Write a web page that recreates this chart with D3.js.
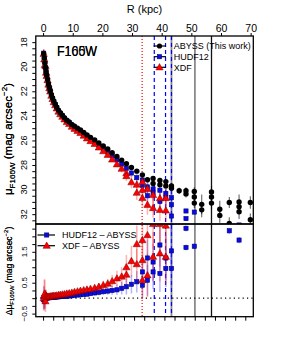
<!DOCTYPE html>
<html>
<head>
<meta charset="utf-8">
<script src="https://cdn.jsdelivr.net/npm/d3@7"></script>
<style>
  body { margin: 0; background: #fff; }
  svg { display: block; font-family: "Liberation Sans", Arial, sans-serif; }
</style>
</head>
<body>
<svg id="chart" width="282" height="353"></svg>
<script>
// filter names as printed (the original overprints two of them)
const filterNames = ["F105W", "F160W"];

// bin centres of the profiles, kpc
const radius = [0.2, 0.4, 0.6, 0.8, 1.0, 1.2, 1.5, 1.8, 2.1, 2.4,
  2.8, 3.2, 3.6, 4.1, 4.6, 5.2, 5.8, 6.5, 7.2, 8.0,
  8.8, 9.7, 10.6, 11.6, 12.6, 13.7, 14.8, 16.0, 17.4, 18.8,
  20.3, 21.8, 23.3, 24.9, 26.5, 28.1, 29.8, 31.6, 33.5, 35.2,
  37.1, 39.4, 41.4, 43.3, 45.9, 48.2, 51.0, 53.5, 56.8, 59.6,
  62.8, 66.1, 69.9];

// ABYSS surface brightness (mag arcsec^-2)
const abyssMu = [18.95, 19.3, 19.7, 20.05, 20.4, 20.7, 21.05, 21.4, 21.7, 21.95,
  22.3, 22.55, 22.8, 23.05, 23.3, 23.55, 23.75, 23.95, 24.15, 24.35,
  24.5, 24.7, 24.85, 25.0, 25.15, 25.35, 25.55, 25.75, 25.95, 26.2,
  26.45, 26.7, 27.0, 27.3, 27.6, 27.9, 28.2, 28.5, 28.8, 29.2,
  29.1, 29.25, 29.35, 29.7, 30.1, 30.1, 30.15, 31.2, 30.2, 31.6,
  31.05, 31.0, 31.05];
const abyssErr = [0.02, 0.02, 0.02, 0.02, 0.02, 0.02, 0.02, 0.02, 0.02, 0.02,
  0.02, 0.02, 0.02, 0.02, 0.02, 0.02, 0.02, 0.02, 0.02, 0.02,
  0.03, 0.03, 0.03, 0.03, 0.03, 0.03, 0.03, 0.03, 0.03, 0.03,
  0.04, 0.04, 0.05, 0.05, 0.06, 0.07, 0.08, 0.1, 0.12, 0.15,
  0.15, 0.15, 0.2, 0.2, 0.25, 0.3, 0.35, 0.8, 0.5, 0.7,
  0.45, 0.6, 0.5];
// further ABYSS measurements in the outer bins: [R, mu, err]
const abyssExtra = [[37.1, 29.5, 0.15], [39.4, 29.6, 0.15], [41.4, 29.7, 0.2],
  [43.3, 29.9, 0.2], [48.2, 30.35, 0.3], [51.0, 30.6, 0.35], [51.0, 31.1, 0.4],
  [53.5, 31.65, 0.6], [56.8, 30.6, 0.4], [56.8, 31.1, 0.5], [59.6, 32.1, 0.6],
  [62.8, 32.75, 0.5], [66.1, 31.4, 0.5], [66.1, 31.8, 0.6], [69.9, 32.45, 0.5]];

// HUDF12 - ABYSS (mag arcsec^-2)
const hudfDelta = [-0.05, 0.02, -0.1, 0.05, 0.0, 0.03, 0.0, 0.02, 0.01, 0.02,
  0.02, 0.03, 0.03, 0.03, 0.04, 0.04, 0.05, 0.05, 0.06, 0.06,
  0.07, 0.08, 0.09, 0.1, 0.11, 0.12, 0.13, 0.15, 0.17, 0.19,
  0.21, 0.23, 0.25, 0.27, 0.32, 0.37, 0.45, 0.53, 0.42, 0.58,
  0.85, 0.8, 0.96, 0.96, null, 1.64, 1.68, null, null, null,
  2.18, 1.88, null];
const hudfErr = [0.3, 0.35, 0.25, 0.2, 0.12, 0.1, 0.08, 0.06, 0.05, 0.05,
  0.04, 0.04, 0.04, 0.04, 0.04, 0.04, 0.04, 0.04, 0.04, 0.04,
  0.05, 0.05, 0.05, 0.05, 0.05, 0.06, 0.07, 0.08, 0.09, 0.1,
  0.11, 0.12, 0.14, 0.16, 0.2, 0.25, 0.3, 0.35, 0.4, 0.5,
  0.55, 0.6, 0.6, 0.65, null, 0.1, 0.1, null, null, null,
  0.1, 0.1, null];
const hudfExtra = [[33.5, 0.85, 0.5], [35.2, 1.3, 0.6], [37.1, 1.17, 0.6],
  [39.4, 1.72, 0.7], [41.4, 1.3, 0.7], [43.3, 1.53, 0.7], [43.3, 2.45, 0.3],
  [48.2, 2.26, 0.1]];

// XDF - ABYSS (mag arcsec^-2)
const xdfDelta = [0.0, 0.1, 0.15, -0.1, 0.08, 0.05, 0.04, 0.05, 0.05, 0.06,
  0.06, 0.07, 0.08, 0.08, 0.09, 0.1, 0.11, 0.12, 0.13, 0.15,
  0.16, 0.18, 0.2, 0.22, 0.24, 0.26, 0.28, 0.3, 0.33, 0.37,
  0.42, 0.47, 0.55, 0.64, 0.7, 0.76, 1.2, 1.75, 0.58, 0.74,
  1.34, 1.45, 1.34, null, null, null, null, null, null, null,
  null, null, null];
const xdfErr = [0.4, 0.5, 0.45, 0.35, 0.2, 0.15, 0.1, 0.08, 0.06, 0.06,
  0.05, 0.05, 0.05, 0.05, 0.05, 0.05, 0.05, 0.05, 0.05, 0.05,
  0.06, 0.06, 0.07, 0.07, 0.08, 0.08, 0.09, 0.1, 0.11, 0.12,
  0.14, 0.16, 0.2, 0.25, 0.3, 0.35, 0.5, 0.6, 0.6, 0.7,
  0.8, 0.9, 0.9, null, null, null, null, null, null, null,
  null, null, null];
const xdfExtra = [[28.1, 1.0, 0.4], [31.6, 1.1, 0.5], [33.5, 1.23, 0.6],
  [33.5, 1.88, 0.7], [35.2, 2.04, 0.8], [37.1, 2.4, 0.8], [39.4, 2.4, 0.9],
  [41.4, 2.35, 0.9]];

// limiting radii, kpc
const xdfLimit = [33.4];
const hudfLimits = [37.5, 41.3, 43.3];
const abyssLimits = [43.3, 51.2];
const finalLimit = [56.8];

// axes
const kpcTicks = [0, 10, 20, 30, 40, 50, 60, 70];
const muLabels = [18, 20, 22, 24, 26, 28, 30, 32];
const deltaLabels = [-0.5, 0.5, 1.5];
const legendTop = ["ABYSS (This work)", "HUDF12", "XDF"];
const legendBottom = ["HUDF12 \u2013 ABYSS", "XDF \u2013 ABYSS"];

const svg = d3.select("#chart");
const pLeft = 35.8, pRight = 253.3, pTop = 36, pMid = 224, pBottom = 316.7;

const x = d3.scaleLinear().domain([-2.46, 70.9]).range([pLeft, pRight]);
const kpcPerArcsec = 6.82;
const xArc = d3.scaleLinear().domain(x.domain().map(d => d / kpcPerArcsec)).range([pLeft, pRight]);
const yTop = d3.scaleLinear().domain([17.5, 32.8]).range([pTop, pMid]);
const yBot = d3.scaleLinear().domain([2.4, -0.6]).range([pMid, pBottom]);

const defs = svg.append("defs");
defs.append("clipPath").attr("id", "clipTop").append("rect")
  .attr("x", pLeft).attr("y", pTop).attr("width", pRight - pLeft).attr("height", pMid - pTop);
defs.append("clipPath").attr("id", "clipBot").append("rect")
  .attr("x", pLeft).attr("y", pMid).attr("width", pRight - pLeft).attr("height", pBottom - pMid);

// point records
const abyssPts = radius.map((r, i) => ({ r, v: abyssMu[i], e: abyssErr[i] }))
  .concat(abyssExtra.map(([r, v, e]) => ({ r, v, e })));
function deltaPts(delta, err, extra) {
  return radius.map((r, i) => delta[i] == null ? null : { r, v: delta[i], e: err[i] })
    .filter(Boolean)
    .concat(extra.map(([r, v, e]) => ({ r, v, e })));
}
const hudfDiff = deltaPts(hudfDelta, hudfErr, hudfExtra);
const xdfDiff = deltaPts(xdfDelta, xdfErr, xdfExtra);
const toMu = d => ({ r: d.r, v: abyssMu[radius.indexOf(d.r)] + d.v, e: d.e });
const hudfMuPts = hudfDiff.map(toMu);
const xdfMuPts = xdfDiff.map(toMu);

// ---- limit lines (both panels)
const lines = svg.append("g");
function vlines(vals, color, width, dash) {
  lines.selectAll(null).data(vals).enter().append("line")
    .attr("x1", d => x(d)).attr("x2", d => x(d))
    .attr("y1", pTop).attr("y2", pBottom)
    .attr("stroke", color).attr("stroke-width", width)
    .attr("stroke-dasharray", dash);
}
vlines(abyssLimits, "#8a8a8a", 1.8, null);
vlines(finalLimit, "#111", 1.3, null);
vlines(xdfLimit, "#ff0000", 1.2, "1,2");
vlines(hudfLimits, "#0000ff", 1.2, "4,3");

// zero line of the residual panel
svg.append("line")
  .attr("x1", pLeft).attr("x2", pRight)
  .attr("y1", yBot(0)).attr("y2", yBot(0))
  .attr("stroke", "#000").attr("stroke-width", 1.3)
  .attr("stroke-dasharray", "1.2,3.2");

function errBars(g, pts, y, color, width) {
  g.selectAll(null).data(pts.filter(d => d.e)).enter().append("line")
    .attr("x1", d => x(d.r)).attr("x2", d => x(d.r))
    .attr("y1", d => y(d.v - d.e)).attr("y2", d => y(d.v + d.e))
    .attr("stroke", color).attr("stroke-width", width);
}
function circles(g, pts, y) {
  g.selectAll(null).data(pts).enter().append("circle")
    .attr("cx", d => x(d.r)).attr("cy", d => y(d.v)).attr("r", 2.7)
    .attr("fill", "#000");
}
function squares(g, pts, y) {
  g.selectAll(null).data(pts).enter().append("rect")
    .attr("x", d => x(d.r) - 2.1).attr("y", d => y(d.v) - 2.1)
    .attr("width", 4.2).attr("height", 4.2)
    .attr("fill", "#0a0ae6").attr("stroke", "#00007a").attr("stroke-width", 0.6);
}
const tri = d3.symbol(d3.symbolTriangle, 23);
function triangles(g, pts, y) {
  g.selectAll(null).data(pts).enter().append("path")
    .attr("d", tri)
    .attr("transform", d => `translate(${x(d.r)},${y(d.v) + 0.5})`)
    .attr("fill", "#f00").attr("stroke", "#7a0000").attr("stroke-width", 0.5);
}

// ---- top panel
const gTop = svg.append("g").attr("clip-path", "url(#clipTop)");
errBars(gTop, hudfMuPts, yTop, "rgba(40,40,255,0.35)", 1.5);
errBars(gTop, xdfMuPts, yTop, "rgba(255,30,30,0.35)", 1.5);
squares(gTop, hudfMuPts, yTop);
triangles(gTop, xdfMuPts, yTop);
errBars(gTop, abyssPts, yTop, "rgba(0,0,0,0.6)", 1.1);
circles(gTop, abyssPts, yTop);

// ---- bottom panel
const gBot = svg.append("g").attr("clip-path", "url(#clipBot)");
errBars(gBot, hudfDiff, yBot, "rgba(40,40,255,0.35)", 1.5);
errBars(gBot, xdfDiff, yBot, "rgba(255,30,30,0.35)", 1.5);
squares(gBot, hudfDiff, yBot);
triangles(gBot, xdfDiff, yBot);

// frames
[[pTop, pMid], [pMid, pBottom]].forEach(([a, b]) => {
  svg.append("rect").attr("x", pLeft).attr("y", a)
    .attr("width", pRight - pLeft).attr("height", b - a)
    .attr("fill", "none").attr("stroke", "#000").attr("stroke-width", 1.3);
});

// ---- axes
const axTop = svg.append("g").attr("transform", `translate(0,${pTop})`)
  .call(d3.axisTop(x).tickValues(kpcTicks).tickSize(3).tickPadding(1.5));
axTop.select(".domain").remove();
axTop.attr("font-family", null).selectAll("text").attr("font-size", 10.5).attr("fill", "#000");

const axBot = svg.append("g").attr("transform", `translate(0,${pBottom})`)
  .call(d3.axisBottom(xArc).tickValues(d3.range(0, 10.01, 0.5)).tickSize(4).tickFormat(""));
axBot.select(".domain").remove();

const axMu = svg.append("g").attr("transform", `translate(${pLeft},0)`)
  .call(d3.axisLeft(yTop).tickValues(d3.range(18, 32.6, 0.5)).tickSize(3.5).tickFormat(""));
axMu.select(".domain").remove();
svg.append("g").selectAll("text").data(muLabels).enter().append("text")
  .attr("transform", d => `translate(26.8,${yTop(d)}) rotate(-90)`)
  .attr("text-anchor", "middle").attr("font-size", 9).text(d => d);

const axDelta = svg.append("g").attr("transform", `translate(${pLeft},0)`)
  .call(d3.axisLeft(yBot).tickValues(d3.range(-0.5, 2.3, 0.25)).tickSize(3.5).tickFormat(""));
axDelta.select(".domain").remove();
svg.append("g").selectAll("text").data(deltaLabels).enter().append("text")
  .attr("transform", d => `translate(26.8,${yBot(d)}) rotate(-90)`)
  .attr("text-anchor", "middle").attr("font-size", 8)
  .text(d => d < 0 ? "\u2212" + Math.abs(d) : d);

// titles
svg.append("text").attr("x", (pLeft + pRight) / 2).attr("y", 13)
  .attr("text-anchor", "middle").attr("font-size", 11).text("R (kpc)");

filterNames.forEach(name => {
  svg.append("text").attr("x", 57).attr("y", 55.7).attr("font-size", 14)
    .attr("textLength", 40).attr("lengthAdjust", "spacingAndGlyphs").text(name);
});

function yLabel(prefix, name, cx, cy, f) {
  const t = svg.append("text")
    .attr("transform", `translate(${cx},${cy}) rotate(-90)`)
    .attr("text-anchor", "middle").attr("font-size", f);
  t.append("tspan").text(prefix + "\u03bc");
  t.append("tspan").attr("font-size", f * 0.7).attr("dy", f * 0.28).text(name);
  t.append("tspan").attr("dy", -f * 0.28).text(" (mag arcsec");
  t.append("tspan").attr("font-size", f * 0.7).attr("dy", -f * 0.4).text("\u22122");
  t.append("tspan").attr("dy", f * 0.4).text(")");
}
filterNames.forEach(name => {
  yLabel("", name, 12, 139, 11.5);
  yLabel("\u0394", name, 11.5, 271, 8.5);
});

// ---- legends
function legend(labels, kinds, x0, x1, xs, xt, ys, f) {
  labels.forEach((lab, i) => {
    const y = ys[i];
    svg.append("line").attr("x1", x0).attr("x2", x1).attr("y1", y).attr("y2", y)
      .attr("stroke", "#000").attr("stroke-width", 1.2);
    const k = kinds[i];
    if (k === "circle") svg.append("circle").attr("cx", xs).attr("cy", y).attr("r", 2.6);
    if (k === "square") svg.append("rect").attr("x", xs - 2.1).attr("y", y - 2.1)
      .attr("width", 4.2).attr("height", 4.2)
      .attr("fill", "#0a0ae6").attr("stroke", "#00007a").attr("stroke-width", 0.6);
    if (k === "triangle") svg.append("path").attr("d", tri)
      .attr("transform", `translate(${xs},${y + 0.5})`)
      .attr("fill", "#f00").attr("stroke", "#7a0000").attr("stroke-width", 0.5);
    svg.append("text").attr("x", xt).attr("y", y + 3.3)
      .attr("font-size", f).text(lab);
  });
}
legend(legendTop, ["circle", "square", "triangle"], 153.7, 166, 159.5, 173.7, [46, 56.7, 67.3], 9);
legend(legendBottom, ["square", "triangle"], 37.5, 55, 46.7, 62, [235, 245.7], 9);
</script>
</body>
</html>
